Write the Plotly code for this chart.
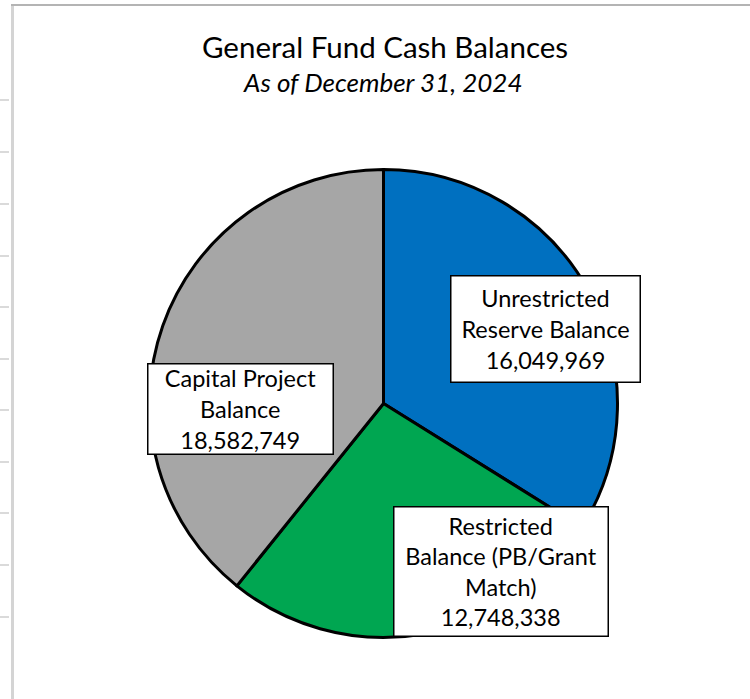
import plotly.graph_objects as go

# General Fund cash balances, as of December 31, 2024
categories = ["Unrestricted Reserve Balance",
              "Restricted Balance (PB/Grant Match)",
              "Capital Project Balance"]
label_lines = [["Unrestricted", "Reserve Balance"],
               ["Restricted", "Balance (PB/Grant", "Match)"],
               ["Capital Project", "Balance"]]
values = [16049969, 12748338, 18582749]
colors = ["#0070C0", "#00A651", "#A6A6A6"]

W, H = 750, 699
FONT = "Lato"

# pie geometry (pixels)
cx, cy, r = 383.5, 403.5, 234

fig = go.Figure(go.Pie(
    labels=categories,
    values=values,
    sort=False,
    direction="clockwise",
    rotation=0,
    marker=dict(colors=colors, line=dict(color="black", width=3)),
    textinfo="none",
    hoverinfo="label+value",
    showlegend=False,
    domain=dict(x=[(cx - r) / W, (cx + r) / W],
                y=[1 - (cy + r) / H, 1 - (cy - r) / H]),
))

# data label boxes: center x, center y, width, height (pixels)
boxes = [(545.5, 329, 188, 105),
         (500.5, 571.7, 213, 128),
         (240.5, 408.7, 184, 89)]

annotations = []
for lines, v, (bx, by, bw, bh) in zip(label_lines, values, boxes):
    text = "<br>".join(lines + [f"{v:,}"])
    annotations.append(dict(
        x=bx / W, y=1 - by / H, xref="paper", yref="paper",
        xanchor="center", yanchor="middle",
        text=text, showarrow=False, align="center", valign="middle",
        width=bw, height=bh, borderpad=0,
        bgcolor="white", bordercolor="black", borderwidth=1.5,
        font=dict(family=FONT, size=23.5, color="black"),
    ))

annotations.append(dict(
    x=384.5 / W, y=1 - 46 / H, xref="paper", yref="paper",
    xanchor="center", yanchor="middle", showarrow=False,
    text="General Fund Cash Balances",
    font=dict(family=FONT, size=29.5, color="black"),
))
annotations.append(dict(
    x=383 / W, y=1 - 82 / H, xref="paper", yref="paper",
    xanchor="center", yanchor="middle", showarrow=False,
    text="<i>As of December 31, 2024</i>",
    font=dict(family=FONT, size=26, color="black"),
))

# worksheet frame around the chart
shapes = [
    dict(type="rect", xref="paper", yref="paper",
         x0=11 / W, x1=14 / W, y0=0, y1=1 - 5 / H,
         fillcolor="#d4d4d4", line=dict(width=0), layer="below"),
    dict(type="line", xref="paper", yref="paper",
         x0=11 / W, x1=1, y0=1 - 5 / H, y1=1 - 5 / H,
         line=dict(color="#b4b4b4", width=2), layer="below"),
]
row_lines = [100, 152, 204, 256, 307, 359, 410, 462, 513, 565, 617]
for yy in row_lines:
    shapes.append(dict(type="line", xref="paper", yref="paper",
                       x0=0, x1=9 / W, y0=1 - yy / H, y1=1 - yy / H,
                       line=dict(color="#dadada", width=2), layer="below"))

fig.update_layout(
    width=W, height=H,
    margin=dict(l=0, r=0, t=0, b=0),
    paper_bgcolor="white", plot_bgcolor="white",
    annotations=annotations,
    shapes=shapes,
)

fig.write_html("out.html")
